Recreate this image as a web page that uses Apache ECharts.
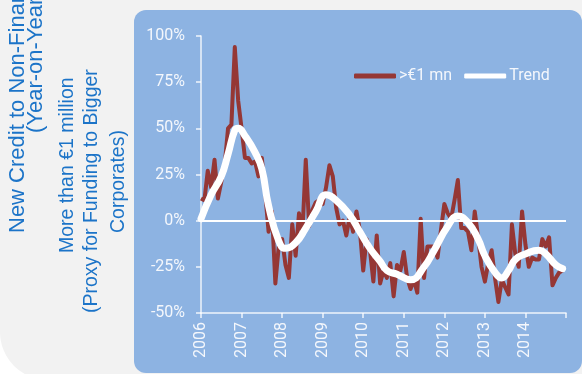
<!DOCTYPE html>
<html>
<head>
<meta charset="utf-8">
<script src="https://cdn.jsdelivr.net/npm/echarts@6/dist/echarts.min.js"></script>
<style>
  html, body { margin: 0; padding: 0; background: #ffffff; }
  #chart { width: 582px; height: 374px; }
</style>
</head>
<body>
<div id="chart"></div>
<script>
// Monthly year-on-year growth (%) of new loans above EUR 1 million, Jan 2006 – Dec 2014
const months = Array.from({ length: 108 }, (_, i) => i); // month index from Jan 2006
const largeLoanGrowth = [
  12, 11, 27, 18, 33, 12, 21, 30, 50, 52, 94, 65,
  50, 34, 34, 31, 32, 24, 34, 15, -6, 5, -34, -14,
  -10, -24, -31, -2, -19, 4, -7, 33, -3, 6, 10, 11,
  9, 18, 30, 24, 7, -2, 0, -8, 2, -6, 5, -5,
  -27, -10, -16, -33, -8, -34, -27, -31, -23, -41, -24, -27,
  -17, -31, -37, -32, -39, 1, -31, -14, -14, -14, -20, -5,
  9, 4, 1, 11, 22, -4, -4, -6, -16, 5, -9, -25,
  -33, -23, -16, -31, -44, -32, -36, -40, -2, -18, -25, 5,
  -13, -25, -20, -21, -21, -10, -14, -9, -35, -31, -28, -27
];

// Smoothed trend, sampled at selected months
const trendMonths = [0, 3, 6, 8, 10, 11, 13, 16, 18, 20, 23, 25, 28, 31, 34, 37, 40, 44, 47, 50,
  53, 55, 58, 62, 66, 69, 73, 76, 79, 82, 84, 87, 89, 91, 93, 96, 100, 102, 105, 107];
const trendValues = [1, 14, 24, 36, 49, 50, 46, 37, 28, 8, -11, -15, -12, -4, 5, 14, 11, 3, -6, -15,
  -22, -27, -29, -32, -25, -16, -3, 2.5, -1, -10, -19, -28, -31, -27, -21, -18, -16, -18, -24, -26];

const yearLabels = ['2006', '2007', '2008', '2009', '2010', '2011', '2012', '2013', '2014'];
const seriesNames = ['>€1 mn', 'Trend'];
const titleLines = [
  'New Credit to Non-Financial Corporations',
  '(Year-on-Year)',
  'More than €1 million',
  '(Proxy for Funding to Bigger',
  'Corporates)'
];

const TEXT = '#f4f7fc';
const AXIS = 'rgba(255,255,255,0.85)';
const TITLE_BLUE = '#1c74c8';

const chart = echarts.init(document.getElementById('chart'), null, { renderer: 'canvas' });

// Vertical title line, reading bottom to top, starting at (x, y)
function titleText(text, x, y, size) {
  return {
    type: 'text', x: x, y: y, rotation: Math.PI / 2, z: 5,
    style: {
      text: text, fill: TITLE_BLUE, fontSize: size,
      fontFamily: '"Liberation Sans", Arial, sans-serif',
      align: 'left', verticalAlign: 'middle'
    }
  };
}

chart.setOption({
  backgroundColor: '#ffffff',
  animation: false,
  textStyle: { fontFamily: 'Roboto, sans-serif' },
  graphic: [
    { type: 'rect', z: -10, shape: { x: 0, y: -50, width: 600, height: 430, r: [0, 0, 0, 48] },
      style: { fill: '#f2f2f2' } },
    { type: 'rect', z: -9, shape: { x: 134, y: 10, width: 448, height: 363, r: 12 },
      style: { fill: '#8db3e2' } },
    titleText(titleLines[0], 18, 233, 22),
    titleText(titleLines[1], 36, 133, 22),
    titleText(titleLines[2], 68, 253, 19.5),
    titleText(titleLines[3], 92, 313, 19.5),
    titleText(titleLines[4], 119, 233, 19.5)
  ],
  grid: { left: 201, right: 16, top: 36, bottom: 61 },
  legend: {
    left: 349, top: 63,
    itemWidth: 42, itemHeight: 5, itemGap: 12,
    icon: 'roundRect',
    textStyle: { color: TEXT, fontSize: 16, fontFamily: 'Roboto, sans-serif', padding: [0, 0, 0, -2] },
    data: seriesNames
  },
  xAxis: {
    type: 'value', min: 0, max: 108, interval: 12,
    axisLine: { show: true, onZero: false, lineStyle: { color: AXIS, width: 1.5 } },
    axisTick: { show: true, length: 5, lineStyle: { color: AXIS, width: 1.5 } },
    splitLine: { show: false },
    axisLabel: {
      rotate: 90, margin: 9, color: TEXT, fontSize: 16,
      formatter: v => yearLabels[v / 12] || ''
    }
  },
  yAxis: {
    type: 'value', min: -50, max: 100, interval: 25,
    axisLine: { show: true, lineStyle: { color: AXIS, width: 1.5 } },
    axisTick: { show: true, length: 5, lineStyle: { color: AXIS, width: 1.5 } },
    splitLine: { show: false },
    axisLabel: { margin: 16, color: TEXT, fontSize: 16, formatter: '{value}%' }
  },
  series: [
    {
      name: seriesNames[0], type: 'line', symbol: 'none',
      color: '#953735',
      lineStyle: { color: '#953735', width: 4, join: 'round' },
      data: months.map((m, i) => [m, largeLoanGrowth[i]]),
      markLine: {
        silent: true, symbol: 'none', label: { show: false },
        lineStyle: { color: '#ffffff', width: 2, type: 'solid' },
        data: [{ yAxis: 0 }]
      }
    },
    {
      name: seriesNames[1], type: 'line', symbol: 'none', smooth: 0.5,
      color: '#ffffff',
      lineStyle: { color: '#ffffff', width: 7, cap: 'round', join: 'round' },
      data: trendMonths.map((m, i) => [m, trendValues[i]])
    }
  ]
});
</script>
</body>
</html>
